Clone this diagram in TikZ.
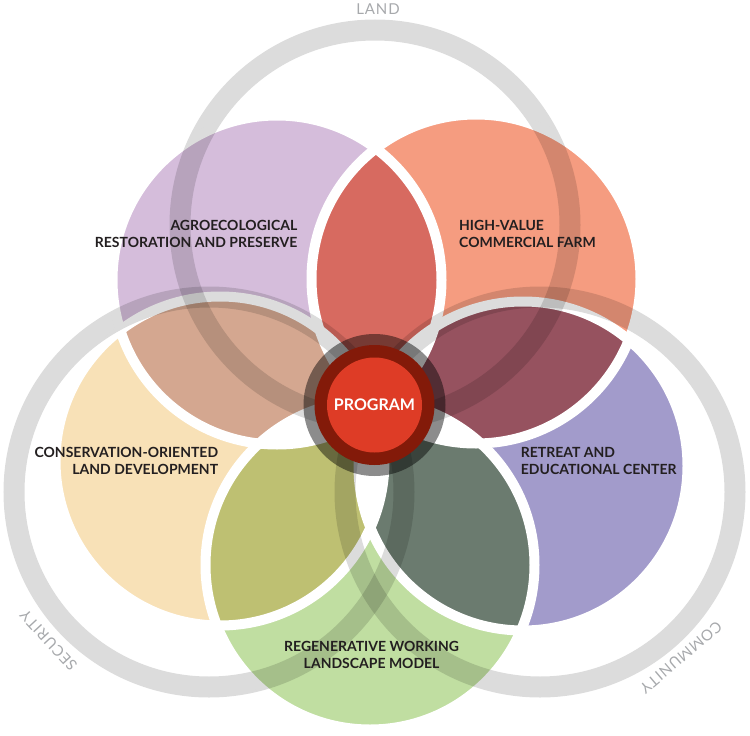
\documentclass[tikz,border=0pt]{standalone}
\usepackage{fontspec}
\setmainfont{Lato}
\definecolor{cpurple}{HTML}{D5BDDB}
\definecolor{corange}{HTML}{F59C80}
\definecolor{cblue}{HTML}{A29BCB}
\definecolor{cgreen}{HTML}{C0DEA1}
\definecolor{cyellow}{HTML}{F8E1B7}
\definecolor{clensred}{HTML}{D76A60}
\definecolor{clensmaroon}{HTML}{96525F}
\definecolor{clensdkgreen}{HTML}{6B7B6F}
\definecolor{clensolive}{HTML}{BEC072}
\definecolor{clenstan}{HTML}{D4A790}
\definecolor{cdarkred}{HTML}{831A09}
\definecolor{cprogred}{HTML}{DE3C26}
\definecolor{labelink}{HTML}{231F20}
\definecolor{ringgray}{HTML}{A7A9AC}
\tikzset{
  lbl/.style={font=\fontsize{14}{17}\selectfont\bfseries, text=labelink, inner sep=0pt},
  ringlbl/.style={font=\fontsize{15}{18}\selectfont\addfontfeature{LetterSpace=6}, text=ringgray, inner sep=0pt},
  gap/.style={draw=white, line width=10pt},
  ringband/.style={draw=black, draw opacity=0.137, line width=21pt},
}
\begin{document}
\begin{tikzpicture}[x=1pt,y=-1pt]
\useasboundingbox (0,0) rectangle (750,736);
\coordinate (A) at (277,280);   % purple
\coordinate (B) at (476,279);   % orange
\coordinate (C) at (523,466);   % blue
\coordinate (D) at (370,565);   % green
\coordinate (E) at (220,461);   % yellow
\coordinate (P) at (374.5,405);
\coordinate (LandC) at (375,225);
\coordinate (SecC) at (209,492);
\coordinate (ComC) at (540,492);
\def\cr{164.5pt}
% circles
\fill[cpurple] (A) circle[radius=\cr];
\fill[corange] (B) circle[radius=\cr];
\fill[cblue] (C) circle[radius=\cr];
\fill[cgreen] (D) circle[radius=\cr];
\fill[cyellow] (E) circle[radius=\cr];
% lenses
\foreach \a/\b/\c in {A/B/clensred, B/C/clensmaroon, C/D/clensdkgreen, D/E/clensolive, E/A/clenstan} {
  \begin{scope}
    \clip (\a) circle[radius=\cr];
    \fill[\c] (\b) circle[radius=\cr];
  \end{scope}
}
% triple overlaps -> white
\foreach \a/\b in {A/C, A/D, B/D, B/E, C/E} {
  \begin{scope}
    \clip (\a) circle[radius=\cr];
    \fill[white] (\b) circle[radius=\cr];
  \end{scope}
}
\foreach \a in {A,B,C,D,E} \draw[gap] (\a) circle[radius=\cr];
% rings
\foreach \a in {LandC,SecC,ComC} \draw[ringband] (\a) circle[radius=195pt];
% program
\fill[black, fill opacity=0.45] (P) circle[radius=71pt];
\fill[cdarkred] (P) circle[radius=60pt];
\node[circle, fill=cprogred, minimum size=95pt, inner sep=0pt, text=white,
      font=\fontsize{16}{19}\selectfont\bfseries] (prog) at (P) {PROGRAM};
% labels
\node[lbl, anchor=base east] (agro1) at (297.5,230) {AGROECOLOGICAL};
\node[lbl, anchor=base east] (agro2) at (297.5,247.6) {RESTORATION AND PRESERVE};
\node[lbl, anchor=base west] (high1) at (459,230) {HIGH-VALUE};
\node[lbl, anchor=base west] (high2) at (459,247.6) {COMMERCIAL FARM};
\node[lbl, anchor=base east] (cons1) at (218.3,457.7) {CONSERVATION-ORIENTED};
\node[lbl, anchor=base east] (cons2) at (218.3,474.5) {LAND DEVELOPMENT};
\node[lbl, anchor=base west] (ret1) at (520.7,457.7) {RETREAT AND};
\node[lbl, anchor=base west] (ret2) at (520.7,474.5) {EDUCATIONAL CENTER};
\node[lbl, anchor=base] (reg1) at (371.6,651.7) {REGENERATIVE WORKING};
\node[lbl, anchor=base] (reg2) at (371.6,668.5) {LANDSCAPE MODEL};
\node[ringlbl, anchor=base] (land) at (378,14) {LAND};
\node[ringlbl, rotate=132.8] (sec) at (48.5,640.5) {SECURITY};
\node[ringlbl, rotate=-139.6] (com) at (681,657.5) {COMMUNITY};
\end{tikzpicture}
\end{document}
